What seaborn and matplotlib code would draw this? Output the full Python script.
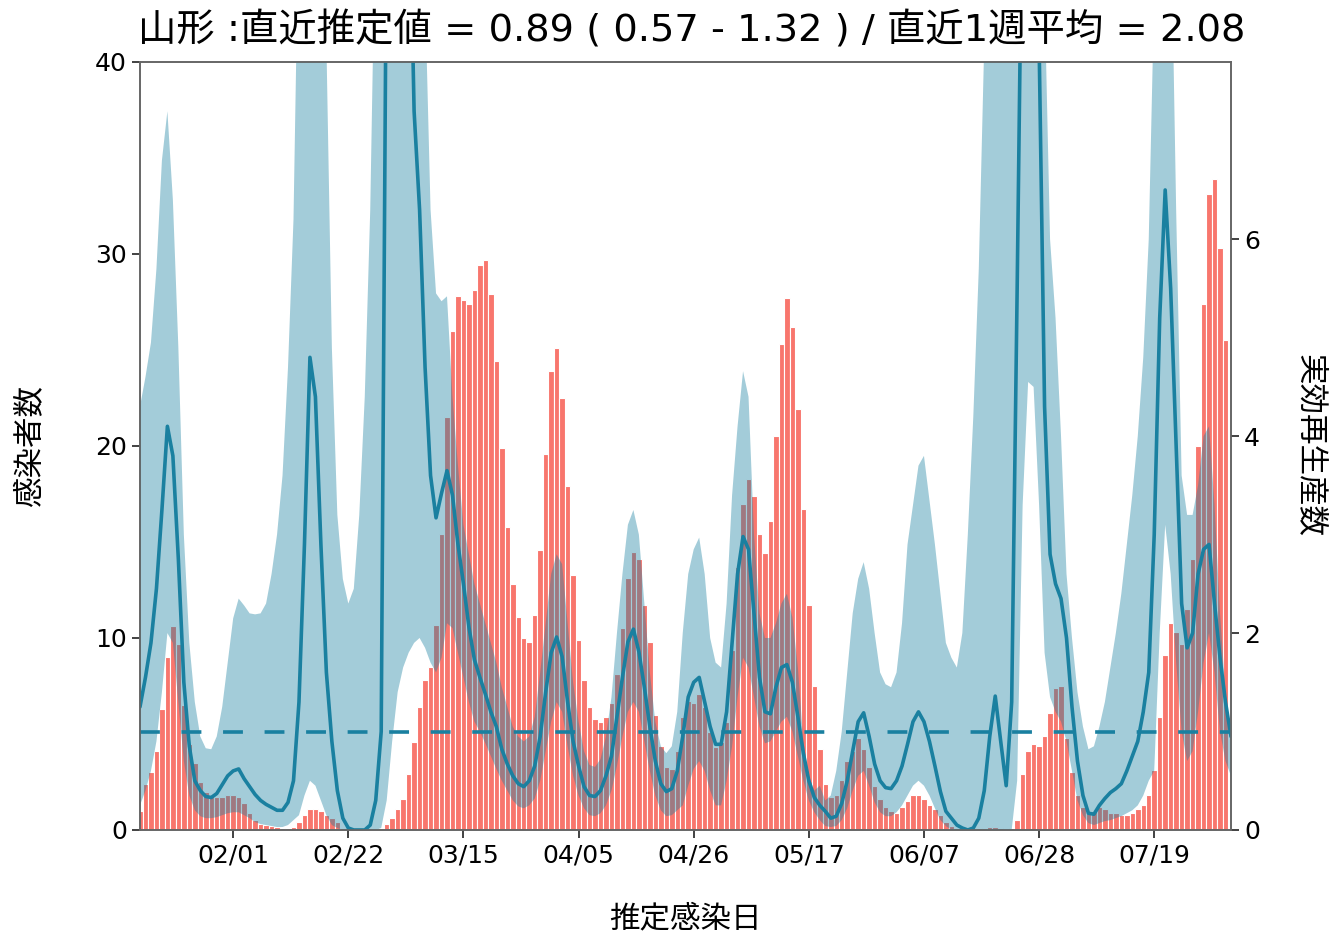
import matplotlib
matplotlib.use("Agg")
import matplotlib.pyplot as plt
import numpy as np
import pandas as pd
import seaborn as sns

sns.set_theme(style="ticks")
plt.rcParams["font.family"] = ["DejaVu Sans", "Noto Sans CJK JP"]
plt.rcParams.update({"text.color": "black", "xtick.color": "black",
                     "ytick.color": "black", "axes.labelcolor": "black"})

# Début de la série (jour 0)
DEBUT = "2021-01-15"

# Nombre d'infections estimées par jour (jour 0 .. 198)
cas = [
    1.0, 2.4, 3.0, 4.1, 6.3, 9.0, 10.6, 9.7, 6.5, 4.5,
    3.5, 2.5, 2.0, 1.8, 1.7, 1.7, 1.8, 1.8, 1.7, 1.4,
    0.9, 0.5, 0.3, 0.25, 0.2, 0.15, 0.1, 0.1, 0.15, 0.4,
    0.8, 1.1, 1.1, 1.0, 0.8, 0.6, 0.4, 0.1, 0.0, 0.0,
    0.0, 0.0, 0.0, 0.0, 0.1, 0.3, 0.6, 1.1, 1.6, 2.9,
    4.6, 6.4, 7.8, 8.5, 10.7, 15.4, 21.5, 26.0, 27.8, 27.6,
    27.4, 28.1, 29.4, 29.7, 27.9, 24.4, 19.9, 15.8, 12.8, 11.1,
    10.0, 9.8, 11.2, 14.6, 19.6, 23.9, 25.1, 22.5, 17.9, 13.3,
    9.9, 7.8, 6.4, 5.8, 5.6, 5.9, 6.6, 8.1, 10.5, 13.1,
    14.5, 14.1, 11.7, 9.8, 6.0, 4.4, 3.3, 3.2, 4.1, 5.9,
    6.7, 6.6, 7.1, 6.4, 5.1, 4.3, 4.6, 5.6, 9.4, 13.7,
    17.0, 18.3, 17.4, 15.4, 14.4, 16.1, 20.5, 25.3, 27.7, 26.2,
    21.9, 16.7, 11.7, 7.5, 4.2, 2.4, 1.7, 1.8, 2.6, 3.6,
    4.1, 4.8, 4.2, 3.3, 2.3, 1.6, 1.2, 1.0, 0.9, 1.2,
    1.5, 1.8, 1.8, 1.6, 1.3, 1.1, 0.8, 0.4, 0.2, 0.1,
    0.05, 0.05, 0.05, 0.1, 0.1, 0.15, 0.15, 0.1, 0.05, 0.1,
    0.5, 2.9, 4.1, 4.5, 4.4, 4.9, 6.1, 7.4, 7.5, 4.8,
    3.0, 1.8, 1.2, 0.9, 1.0, 1.2, 1.1, 0.9, 0.9, 0.8,
    0.8, 0.9, 1.1, 1.3, 1.8, 3.1, 5.9, 9.1, 10.8, 10.3,
    9.7, 11.5, 14.1, 20.0, 27.4, 33.1, 33.9, 30.3, 25.5,
]

# Nombre de reproduction effectif (jour 0 .. 199)
rt = [
    1.25, 1.55, 1.9, 2.45, 3.25, 4.1, 3.8, 2.75, 1.5, 0.85,
    0.5, 0.4, 0.34, 0.33, 0.37, 0.46, 0.55, 0.6, 0.62, 0.52,
    0.44, 0.36, 0.3, 0.26, 0.23, 0.2, 0.2, 0.28, 0.5, 1.3,
    2.9, 4.8, 4.4, 2.9, 1.6, 0.9, 0.4, 0.12, 0.02, 0.0,
    0.0, 0.0, 0.05, 0.3, 1.0, 9.6, 14.0, 16.0, 14.0, 10.0,
    7.3, 6.3, 4.7, 3.6, 3.17, 3.42, 3.65, 3.4, 2.9, 2.5,
    2.06, 1.73, 1.55, 1.38, 1.2, 1.05, 0.82, 0.67, 0.55, 0.47,
    0.44, 0.5, 0.65, 0.95, 1.4, 1.8, 1.96, 1.76, 1.3, 0.9,
    0.65, 0.44, 0.35, 0.34, 0.4, 0.55, 0.75, 1.15, 1.55, 1.91,
    2.04, 1.81, 1.45, 1.05, 0.7, 0.47, 0.39, 0.42, 0.6, 0.95,
    1.35, 1.5, 1.55, 1.3, 1.05, 0.87, 0.87, 1.2, 1.9, 2.6,
    2.98, 2.85, 2.2, 1.55, 1.2, 1.18, 1.45, 1.65, 1.68, 1.5,
    1.15, 0.78, 0.5, 0.33, 0.25, 0.19, 0.12, 0.14, 0.27, 0.5,
    0.8, 1.1, 1.19, 0.95, 0.67, 0.5, 0.43, 0.42, 0.5, 0.65,
    0.87, 1.1, 1.2, 1.1, 0.9, 0.65, 0.39, 0.19, 0.12, 0.05,
    0.02, 0.0, 0.02, 0.12, 0.4, 0.95, 1.36, 0.9, 0.45, 1.3,
    5.5, 10.0, 14.0, 12.0, 8.0, 4.3, 2.8, 2.5, 2.35, 1.95,
    1.25, 0.7, 0.35, 0.17, 0.16, 0.25, 0.32, 0.38, 0.42, 0.47,
    0.6, 0.75, 0.9, 1.2, 1.6, 3.0, 5.2, 6.5, 5.5, 3.9,
    2.3, 1.85, 2.0, 2.6, 2.85, 2.9, 2.3, 1.75, 1.3, 0.95,
]

# Borne basse de l'intervalle
rt_bas = [
    0.25, 0.4, 0.6, 0.9, 1.4, 2.0, 1.9, 1.3, 0.7, 0.35,
    0.2, 0.14, 0.12, 0.12, 0.13, 0.15, 0.17, 0.18, 0.18, 0.15,
    0.12, 0.08, 0.06, 0.05, 0.04, 0.03, 0.03, 0.05, 0.1, 0.15,
    0.35, 0.5, 0.45, 0.3, 0.15, 0.05, 0.02, 0.0, 0.0, 0.0,
    0.0, 0.0, 0.0, 0.0, 0.02, 0.3, 0.9, 1.4, 1.65, 1.8,
    1.9, 1.95, 1.85, 1.7, 1.6, 1.75, 2.1, 2.05, 1.8, 1.55,
    1.3, 1.1, 1.0, 0.88, 0.75, 0.62, 0.5, 0.4, 0.3, 0.24,
    0.22, 0.25, 0.32, 0.5, 0.8, 1.1, 1.3, 1.2, 0.85, 0.55,
    0.35, 0.22, 0.15, 0.14, 0.17, 0.25, 0.4, 0.65, 0.95, 1.2,
    1.3, 1.2, 0.9, 0.6, 0.35, 0.2, 0.14, 0.15, 0.2, 0.25,
    0.45, 0.62, 0.7, 0.6, 0.4, 0.25, 0.25, 0.5, 0.85, 1.35,
    1.75, 1.65, 1.35, 1.05, 0.88, 0.9, 1.0, 1.1, 1.15, 1.0,
    0.75, 0.5, 0.3, 0.18, 0.1, 0.04, 0.03, 0.04, 0.1, 0.22,
    0.4, 0.55, 0.6, 0.45, 0.28, 0.18, 0.14, 0.14, 0.18, 0.25,
    0.35, 0.45, 0.5, 0.45, 0.35, 0.22, 0.1, 0.04, 0.0, 0.0,
    0.0, 0.0, 0.0, 0.0, 0.0, 0.0, 0.0, 0.0, 0.0, 0.0,
    0.5, 3.3, 4.55, 4.5, 3.3, 1.8, 1.35, 1.2, 1.1, 0.9,
    0.6, 0.3, 0.15, 0.07, 0.05, 0.07, 0.09, 0.1, 0.12, 0.14,
    0.17, 0.2, 0.25, 0.35, 0.5, 0.6, 2.0, 3.1, 2.6, 1.7,
    1.0, 0.7, 0.8, 1.2, 1.7, 2.0, 1.6, 1.0, 0.7, 0.55,
]

# Borne haute de l'intervalle
rt_haut = [
    4.3, 4.6, 4.95, 5.7, 6.8, 7.3, 6.4, 4.9, 3.0, 1.9,
    1.3, 0.95, 0.83, 0.82, 0.95, 1.25, 1.7, 2.15, 2.35, 2.28,
    2.2, 2.19, 2.2, 2.3, 2.6, 3.0, 3.6, 4.7, 6.2, 9.5,
    12.0, 14.0, 13.0, 11.0, 8.0, 4.9, 3.2, 2.55, 2.3, 2.45,
    3.2, 4.4, 6.3, 9.5, 12.0, 20.0, 25.0, 25.0, 22.0, 18.0,
    14.0, 11.0, 8.5, 6.3, 5.45, 5.37, 5.42, 4.4, 3.7, 3.1,
    2.8, 2.5, 2.3, 2.1, 1.9, 1.7, 1.45, 1.25, 1.05, 0.95,
    0.9, 0.95, 1.15, 1.6, 2.1, 2.6, 2.8, 2.7, 2.1, 1.5,
    1.1, 0.8, 0.66, 0.64, 0.72, 0.95, 1.35, 2.0, 2.6, 3.1,
    3.25, 3.0, 2.3, 1.6, 1.1, 0.85, 0.78, 0.85, 1.2, 2.0,
    2.6, 2.85, 2.97, 2.6, 1.95, 1.7, 1.65, 2.3, 3.4, 4.1,
    4.66, 4.4, 3.0, 2.2, 1.95, 1.95, 2.1, 2.3, 2.4, 2.16,
    1.65, 0.9, 0.55, 0.4, 0.45, 0.3, 0.35, 0.6, 1.0, 1.6,
    2.2, 2.55, 2.72, 2.45, 2.0, 1.6, 1.48, 1.45, 1.6, 2.1,
    2.9, 3.3, 3.7, 3.8, 3.35, 2.9, 2.4, 1.9, 1.75, 1.65,
    2.0, 3.0, 4.2, 5.7, 8.0, 12.0, 15.0, 15.0, 15.0, 18.0,
    25.0, 30.0, 30.0, 25.0, 18.0, 8.5, 6.0, 5.2, 4.0, 2.6,
    1.95, 1.4, 1.05, 0.82, 0.85, 1.05, 1.3, 1.65, 2.0, 2.4,
    2.9, 3.4, 4.0, 4.8, 6.0, 8.5, 12.0, 14.0, 9.5, 6.3,
    3.6, 3.2, 3.2, 3.5, 4.0, 4.1, 3.3, 2.2, 1.4, 0.9,
]

etiquettes_x = ["02/01", "02/22", "03/15", "04/05", "04/26",
                "05/17", "06/07", "06/28", "07/19"]

TITRE = "山形 :直近推定値 = 0.89 ( 0.57 - 1.32 ) / 直近1週平均 = 2.08"

COULEUR_BARRE = "#f8766d"
COULEUR_RT = "#1a80a0"

jours_cas = np.arange(len(cas))
jours_rt = np.arange(len(rt))
debut = pd.Timestamp(DEBUT)
pos_x = [(pd.Timestamp("2021-" + e.replace("/", "-")) - debut).days for e in etiquettes_x]

fig, ax1 = plt.subplots(figsize=(13.37, 9.39), dpi=100)
fig.subplots_adjust(left=0.1047, right=0.9207, top=0.934, bottom=0.1161)

sns.barplot(x=jours_cas, y=cas, native_scale=True, color=COULEUR_BARRE,
            saturation=1, width=1, edgecolor="white", linewidth=0.8,
            errorbar=None, ax=ax1)

ax2 = ax1.twinx()
ax2.fill_between(jours_rt, rt_bas, rt_haut, color=COULEUR_RT, alpha=0.4, lw=0)
sns.lineplot(x=jours_rt, y=rt, color=COULEUR_RT, lw=2.6, ax=ax2)
ax2.axhline(1, color=COULEUR_RT, lw=2.6, ls=(0, (5.5, 6)))

ax1.set_xlim(0, len(rt) - 1)
ax1.set_ylim(0, 40)
ax2.set_ylim(0, 7.8)
ax1.set_yticks([0, 10, 20, 30, 40])
ax2.set_yticks([0, 2, 4, 6])
ax1.set_xticks(pos_x)
ax1.set_xticklabels(etiquettes_x)

for ax in (ax1, ax2):
    ax.tick_params(labelsize=18, length=6, width=1.3, color="#333333")
    for s in ax.spines.values():
        s.set_color("#666666")
        s.set_linewidth(1.2)

ax1.set_xlabel("推定感染日", fontsize=22)
ax1.set_ylabel("感染者数", fontsize=22)
ax2.set_ylabel("実効再生産数", fontsize=22, rotation=270)
ax1.xaxis.set_label_coords(0.5, -0.097)
ax1.yaxis.set_label_coords(-0.087, 0.5)
ax2.yaxis.set_label_coords(1.086, 0.5)
titre = ax1.set_title(TITRE, fontsize=27.6, pad=15)
titre.set_x(0.506)

fig.savefig("out.png", dpi=100)
